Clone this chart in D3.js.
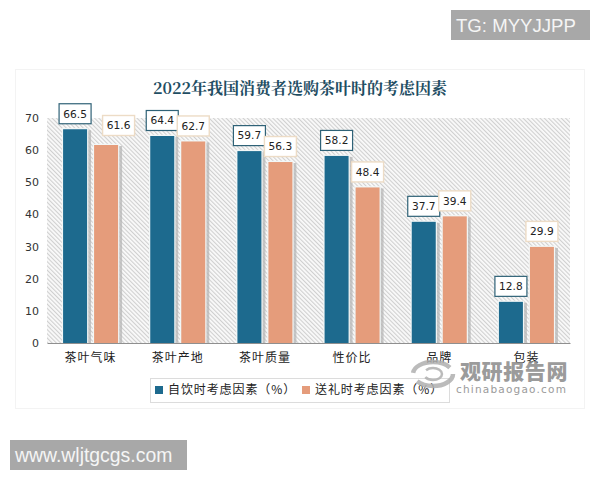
<!doctype html>
<meta charset="utf-8">
<style>
  html, body { margin: 0; background: #fff; }
  svg { display: block; }
  text { font-family: "Noto Sans CJK SC", sans-serif; }
</style>
<body>
<div id="chart"></div>
<script src="https://d3js.org/d3.v7.min.js"></script>
<script>
const title = "2022年我国消费者选购茶叶时的考虑因素"
const categories = ["茶叶气味", "茶叶产地", "茶叶质量", "性价比", "品牌", "包装"]
const selfUse = [66.5, 64.4, 59.7, 58.2, 37.7, 12.8]
const gift = [61.6, 62.7, 56.3, 48.4, 39.4, 29.9]
const seriesNames = ["自饮时考虑因素（%）", "送礼时考虑因素（%）"]
const yTicks = [0, 10, 20, 30, 40, 50, 60, 70]

const colors = ["#1d6a8e", "#e59c7b"]
const labelBorders = ["#2f6277", "#eddcc6"]

const margin = { top: 118, right: 30, bottom: 137, left: 47 }
const width = 600 - margin.left - margin.right
const height = 480 - margin.top - margin.bottom

const svg = d3.select("#chart").append("svg")
  .attr("width", 600)
  .attr("height", 480)

const hatch = svg.append("defs").append("pattern")
  .attr("id", "hatch")
  .attr("width", 3)
  .attr("height", 3)
  .attr("patternUnits", "userSpaceOnUse")
  .attr("patternTransform", "rotate(-45)")
hatch.append("rect").attr("width", 3).attr("height", 3).attr("fill", "#fafafa")
hatch.append("rect").attr("width", 1.1).attr("height", 3).attr("fill", "#d0d0d0")

// outer card
svg.append("rect")
  .attr("x", 15.5)
  .attr("y", 69.5)
  .attr("width", 569)
  .attr("height", 339)
  .attr("fill", "#fff")
  .attr("stroke", "#f3f3f3")

svg.append("text")
  .attr("x", 300)
  .attr("y", 94)
  .attr("text-anchor", "middle")
  .attr("font-size", 16)
  .attr("font-weight", 700)
  .attr("fill", "#1f4e63")
  .style("font-family", "'Noto Serif CJK SC', 'Noto Sans CJK SC', sans-serif")
  .text(title)

const g = svg.append("g")
  .attr("transform", "translate(" + margin.left + "," + margin.top + ")")

const x = d3.scaleBand()
  .domain(categories)
  .range([0, width])
  .paddingInner(0)

const xInner = d3.scaleBand()
  .domain([0, 1])
  .range([x.bandwidth() / 2 - 27.5, x.bandwidth() / 2 + 27.5])
  .paddingInner(0.226)

const y = d3.scaleLinear()
  .domain([0, 70])
  .range([height, 0])

g.append("rect")
  .attr("width", width)
  .attr("height", height)
  .attr("fill", "url(#hatch)")

const rows = categories.map((c, i) => ({ c, values: [selfUse[i], gift[i]] }))

const groups = g.selectAll(".group")
  .data(rows)
  .enter()
  .append("g")
  .attr("transform", d => "translate(" + x(d.c) + ",0)")

const bars = groups.selectAll(".bar")
  .data(d => d.values.map((v, s) => ({ v, s })))
  .enter()
  .append("g")

// shadow behind each bar, then a pale edge
bars.append("rect")
  .attr("x", d => xInner(d.s) + 1)
  .attr("y", d => y(d.v) + 1)
  .attr("width", xInner.bandwidth() + 3)
  .attr("height", d => height - y(d.v) - 1)
  .attr("fill", "#b5b5b5")
  .attr("opacity", 0.75)

bars.append("rect")
  .attr("x", d => xInner(d.s) - 1.2)
  .attr("y", d => y(d.v) - 1.2)
  .attr("width", xInner.bandwidth() + 2.4)
  .attr("height", d => height - y(d.v) + 1.2)
  .attr("fill", "#f2f7f7")

bars.append("rect")
  .attr("class", "bar")
  .attr("x", d => xInner(d.s))
  .attr("y", d => y(d.v))
  .attr("width", xInner.bandwidth())
  .attr("height", d => height - y(d.v))
  .attr("fill", d => colors[d.s])

// value labels sit above their bars, first gift label is pushed aside in the original
const labels = g.selectAll(".label")
  .data(rows.flatMap(r => r.values.map((v, s) => ({ c: r.c, v, s }))))
  .enter()
  .append("g")
  .attr("transform", d => {
    const nudged = d.c === categories[0] && d.s === 1
    const lx = x(d.c) + xInner(d.s) + xInner.bandwidth() / 2 + (nudged ? 12.5 : 0)
    const ly = y(d.v) - (nudged ? 19.5 : 15.5)
    return "translate(" + lx + "," + ly + ")"
  })

labels.append("rect")
  .attr("x", -16)
  .attr("y", -10)
  .attr("width", 32)
  .attr("height", 20)
  .attr("fill", "#fff")
  .attr("stroke", d => labelBorders[d.s])
  .attr("stroke-width", d => d.s === 0 ? 1.2 : 1.4)

labels.append("text")
  .attr("text-anchor", "middle")
  .attr("dy", "0.36em")
  .attr("font-size", 10.6)
  .attr("fill", "#222")
  .style("font-family", "'DejaVu Sans', sans-serif")
  .text(d => d.v)

const yAxis = g.append("g")
  .call(d3.axisLeft(y).tickValues(yTicks).tickSize(0).tickPadding(8))
yAxis.select(".domain").remove()
yAxis.selectAll("text")
  .attr("font-size", 11)
  .attr("fill", "#333")
  .style("font-family", "'DejaVu Sans', sans-serif")

const xAxis = g.append("g")
  .attr("transform", "translate(0," + height + ")")
  .call(d3.axisBottom(x).tickSize(0).tickPadding(10))
xAxis.select(".domain").attr("stroke", "#8f8f8f").attr("stroke-width", 1.2)
xAxis.selectAll("text")
  .attr("font-size", 12)
  .attr("fill", "#222")
  .attr("letter-spacing", 1)

// legend
const legend = svg.append("g")
legend.append("rect")
  .attr("x", 150.5)
  .attr("y", 378.5)
  .attr("width", 299)
  .attr("height", 24)
  .attr("fill", "#fff")
  .attr("stroke", "#dcdcdc")

const legendX = d3.scalePoint().domain([0, 1]).range([155, 302])
const legendItems = legend.selectAll(".item")
  .data(seriesNames)
  .enter()
  .append("g")
  .attr("transform", (d, i) => "translate(" + legendX(i) + ",390)")
legendItems.append("rect")
  .attr("y", -4)
  .attr("width", 8)
  .attr("height", 8)
  .attr("fill", (d, i) => colors[i])
legendItems.append("text")
  .attr("x", 13)
  .attr("dy", "0.36em")
  .attr("font-size", 12)
  .attr("fill", "#222")
  .attr("letter-spacing", 0.9)
  .text(d => d)

// watermark
const mark = svg.append("g").attr("fill", "#8a8a8a").attr("opacity", 0.85)
mark.append("ellipse")
  .attr("cx", 433)
  .attr("cy", 374)
  .attr("rx", 20)
  .attr("ry", 12)
  .attr("fill", "none")
  .attr("stroke", "#b0b0b0")
  .attr("stroke-width", 4.5)
  .attr("stroke-dasharray", "42 10")
mark.append("ellipse")
  .attr("cx", 433)
  .attr("cy", 374)
  .attr("rx", 9)
  .attr("ry", 6)
  .attr("fill", "none")
  .attr("stroke", "#b0b0b0")
  .attr("stroke-width", 2.5)
  .attr("stroke-dasharray", "20 8")
mark.append("text")
  .attr("x", 460)
  .attr("y", 379)
  .attr("font-size", 21)
  .attr("font-weight", 900)
  .attr("letter-spacing", 0.6)
  .text("观研报告网")
mark.append("text")
  .attr("x", 456)
  .attr("y", 393)
  .attr("font-size", 10.5)
  .attr("letter-spacing", 1.2)
  .style("font-family", "'DejaVu Sans', sans-serif")
  .text("chinabaogao.com")

// grey stamps
function drawStamp(label, sx, sy, sw, size) {
  svg.append("rect")
    .attr("x", sx)
    .attr("y", sy)
    .attr("width", sw)
    .attr("height", 30)
    .attr("fill", "#a8a8a8")
  svg.append("text")
    .attr("x", sx + 5)
    .attr("y", sy + 15)
    .attr("dy", "0.36em")
    .attr("font-size", size)
    .attr("fill", "#f5f5f5")
    .style("font-family", "'Liberation Sans', sans-serif")
    .text(label)
}

drawStamp("TG: MYYJJPP", 451, 10, 139, 18.6)
drawStamp("www.wljtgcgs.com", 10, 440, 177, 19.4)
</script>
</body>
